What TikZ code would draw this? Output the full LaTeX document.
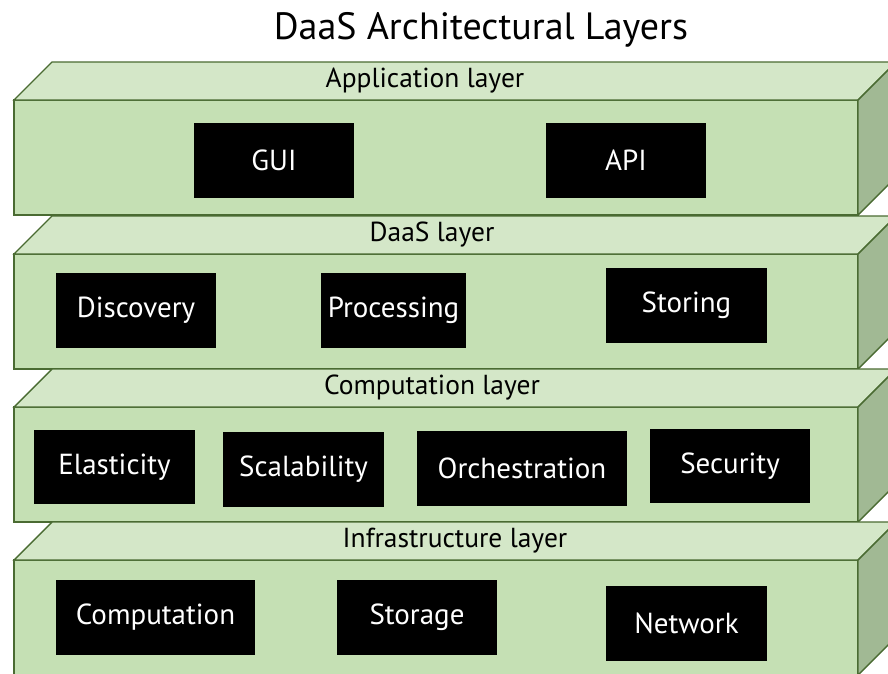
\documentclass[tikz,border=0pt]{standalone}
\usepackage{fontspec}
\setmainfont{PT Sans}
\definecolor{frontc}{HTML}{C5E0B4}
\definecolor{topc}{HTML}{D4E7C8}
\definecolor{sidec}{HTML}{A1B994}
\definecolor{edgec}{HTML}{4A6B32}
\begin{document}
\begin{tikzpicture}[x=1pt,y=-1pt,
  face/.style={draw=edgec, line width=1.4pt, line join=miter},
  blk/.style={fill=black, text=white, inner sep=0pt, font=\fontsize{29}{34}\selectfont},
  lbl/.style={text=black, inner sep=0pt, font=\fontsize{27.5}{32}\selectfont},
  ttl/.style={text=black, inner sep=0pt, font=\fontsize{38}{44}\selectfont}]
\useasboundingbox (0,0) rectangle (888,673);
\clip (0,0) rectangle (888,673);
\fill[white] (0,0) rectangle (888,673);
\foreach \t in {100,254,407,560}{
  \filldraw[face, fill=frontc] (14,\t) rectangle (858,\t+115);
  \filldraw[face, fill=topc] (14,\t) -- (52,\t-38) -- (896,\t-38) -- (858,\t) -- cycle;
  \filldraw[face, fill=sidec] (858,\t) -- (896,\t-38) -- (896,\t+77) -- (858,\t+115) -- cycle;
}
\node[ttl] (title) at (481,30) {DaaS Architectural Layers};
\node[lbl] (lapp) at (425,81) {Application layer};
\node[lbl] (ldaas) at (432,235) {DaaS layer};
\node[lbl] (lcomp) at (432,388) {Computation layer};
\node[lbl] (linfra) at (455,541) {Infrastructure layer};
\node[blk, minimum width=160pt, minimum height=75pt] (gui) at (274,160.5) {GUI};
\node[blk, minimum width=160pt, minimum height=75pt] (api) at (626,160.5) {API};
\node[blk, minimum width=160pt, minimum height=75pt] (disc) at (136,310.5) {Discovery};
\node[blk, minimum width=145pt, minimum height=75pt] (proc) at (393.5,310.5) {Processing};
\node[blk, minimum width=161pt, minimum height=75pt] (stor) at (686.5,305.5) {Storing};
\node[blk, minimum width=161pt, minimum height=74pt] (elas) at (114.5,467) {Elasticity};
\node[blk, minimum width=161pt, minimum height=75pt] (scal) at (303.5,469.5) {Scalability};
\node[blk, minimum width=210pt, minimum height=75pt] (orch) at (522,468.5) {Orchestration};
\node[blk, minimum width=160pt, minimum height=74pt] (sec) at (730,466) {Security};
\node[blk, minimum width=199pt, minimum height=75pt] (compu) at (155.5,617.5) {Computation};
\node[blk, minimum width=160pt, minimum height=75pt] (stg) at (417,617.5) {Storage};
\node[blk, minimum width=161pt, minimum height=75pt] (net) at (686.5,623) {Network};
\end{tikzpicture}
\end{document}
